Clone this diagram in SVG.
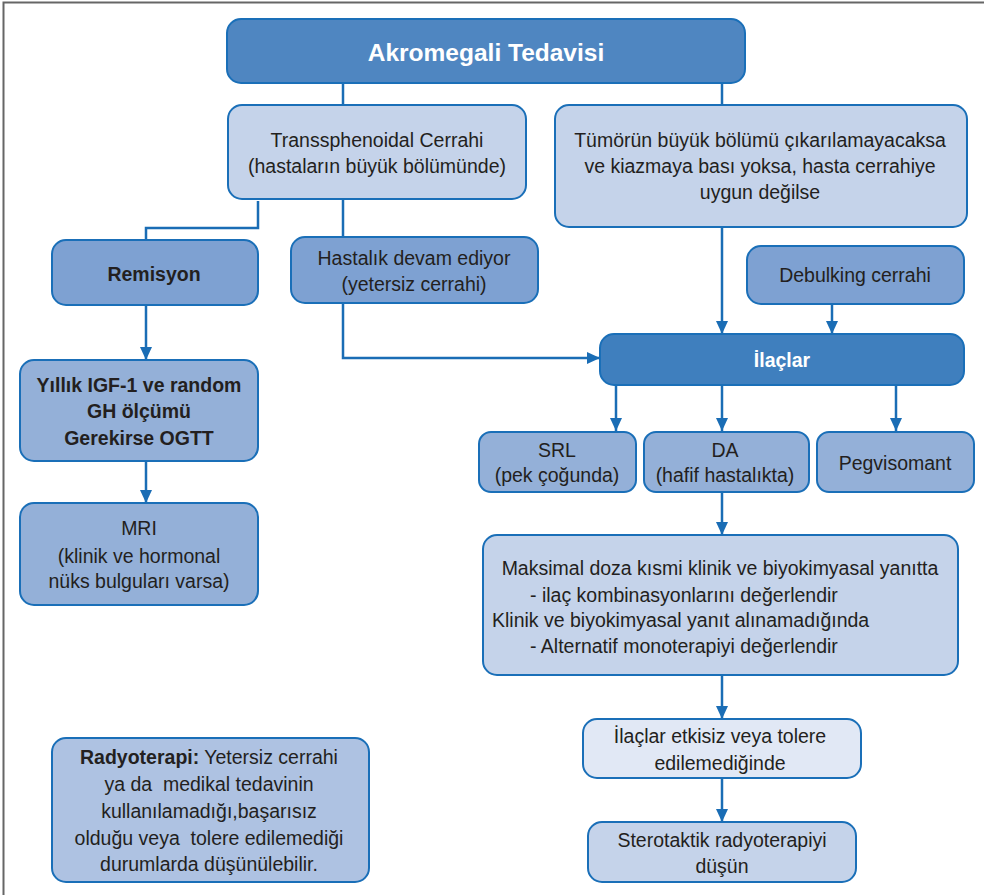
<svg xmlns="http://www.w3.org/2000/svg" width="984" height="895" viewBox="0 0 984 895">
<defs>
<marker id="ah" markerUnits="userSpaceOnUse" markerWidth="14" markerHeight="14" viewBox="0 0 14 14" refX="13" refY="7" orient="auto">
<path d="M0,1 L13,7 L0,13 Z" fill="#1a6db5"/>
</marker>
<style>
.n{stroke:#1a6fb8;stroke-width:2}
.t{font-family:"Liberation Sans",Arial,sans-serif;font-size:19.5px;fill:#231f20;text-anchor:middle}
.b{font-weight:bold}
.w{fill:#ffffff}
.p{white-space:pre}
.c{fill:none;stroke:#1a6db5;stroke-width:2.5}
.a{marker-end:url(#ah)}
</style>
</defs>
<rect width="984" height="895" fill="#ffffff"/>
<path d="M3.5,895 V2.5 H984" fill="none" stroke="#666" stroke-width="2"/>
<g id="connectors">
<path class="c" d="M343,83 V105"/>
<path class="c" d="M722,83 V105"/>
<path class="c" d="M258,201 V228 H146 V240"/>
<path class="c" d="M343,199 V237"/>
<path class="c a" d="M343,303 V358 H600"/>
<path class="c a" d="M722,227 V334"/>
<path class="c a" d="M832,304 V334"/>
<path class="c a" d="M616,385 V431"/>
<path class="c a" d="M722,385 V431"/>
<path class="c a" d="M896,385 V431"/>
<path class="c a" d="M722,492 V535"/>
<path class="c a" d="M722,675 V719"/>
<path class="c a" d="M722,778 V822"/>
<path class="c a" d="M146,305 V360"/>
<path class="c a" d="M146,461 V503"/>
</g>
<g id="title">
<rect class="n" x="227" y="19" width="518" height="64" rx="14" fill="#4f86c1"/>
<text class="t b w" x="486" y="61" style="font-size:24.5px">Akromegali Tedavisi</text>
</g>
<g id="transsphenoidal">
<rect class="n" x="228" y="105" width="298" height="94" rx="14" fill="#c5d3ea"/>
<text class="t" x="377" y="147">Transsphenoidal Cerrahi</text>
<text class="t" x="377" y="173">(hastaların büyük bölümünde)</text>
</g>
<g id="tumor">
<rect class="n" x="555" y="105" width="412" height="122" rx="14" fill="#c5d3ea"/>
<text class="t" x="760" y="147">Tümörün büyük bölümü çıkarılamayacaksa</text>
<text class="t" x="760" y="173">ve kiazmaya bası yoksa, hasta cerrahiye</text>
<text class="t" x="760" y="199">uygun değilse</text>
</g>
<g id="remisyon">
<rect class="n" x="52" y="240" width="206" height="65" rx="14" fill="#7ea1d2"/>
<text class="t b" x="154" y="281">Remisyon</text>
</g>
<g id="hastalik">
<rect class="n" x="291" y="237" width="247" height="66" rx="14" fill="#7ea1d2"/>
<text class="t" x="414" y="265">Hastalık devam ediyor</text>
<text class="t" x="414" y="291">(yetersiz cerrahi)</text>
</g>
<g id="debulking">
<rect class="n" x="747" y="246" width="217" height="58" rx="14" fill="#7ea1d2"/>
<text class="t" x="855" y="282">Debulking cerrahi</text>
</g>
<g id="ilaclar">
<rect class="n" x="600" y="334" width="364" height="51" rx="14" fill="#3f7fbe"/>
<text class="t b w" x="782" y="367">İlaçlar</text>
</g>
<g id="srl">
<rect class="n" x="479" y="432" width="157" height="60" rx="12" fill="#94b0d8"/>
<text class="t" x="557" y="457">SRL</text>
<text class="t" x="557" y="482">(pek çoğunda)</text>
</g>
<g id="da">
<rect class="n" x="644" y="432" width="165" height="60" rx="12" fill="#94b0d8"/>
<text class="t" x="725" y="457">DA</text>
<text class="t" x="725" y="482">(hafif hastalıkta)</text>
</g>
<g id="pegvisomant">
<rect class="n" x="817" y="432" width="157" height="60" rx="12" fill="#94b0d8"/>
<text class="t" x="895" y="470">Pegvisomant</text>
</g>
<g id="maksimal">
<rect class="n" x="483" y="535" width="475" height="140" rx="14" fill="#c5d3ea"/>
<text class="t" x="720" y="575">Maksimal doza kısmi klinik ve biyokimyasal yanıtta</text>
<text class="t" x="530" y="602" style="text-anchor:start">- ilaç kombinasyonlarını değerlendir</text>
<text class="t" x="492" y="627" style="text-anchor:start">Klinik ve biyokimyasal yanıt alınamadığında</text>
<text class="t" x="530" y="653" style="text-anchor:start">- Alternatif monoterapiyi değerlendir</text>
</g>
<g id="etkisiz">
<rect class="n" x="583" y="719" width="278" height="59" rx="14" fill="#e1e8f5"/>
<text class="t" x="720" y="743">İlaçlar etkisiz veya tolere</text>
<text class="t" x="720" y="770">edilemediğinde</text>
</g>
<g id="sterotaktik">
<rect class="n" x="588" y="822" width="268" height="60" rx="14" fill="#c5d3ea"/>
<text class="t" x="722" y="847">Sterotaktik radyoterapiyi</text>
<text class="t" x="722" y="873">düşün</text>
</g>
<g id="yillik">
<rect class="n" x="20" y="360" width="238" height="101" rx="14" fill="#94b0d8"/>
<text class="t b" x="139" y="392">Yıllık IGF-1 ve random</text>
<text class="t b" x="139" y="418">GH ölçümü</text>
<text class="t b" x="139" y="445">Gerekirse OGTT</text>
</g>
<g id="mri">
<rect class="n" x="20" y="503" width="238" height="102" rx="14" fill="#94b0d8"/>
<text class="t" x="139" y="535">MRI</text>
<text class="t" x="139" y="563">(klinik ve hormonal</text>
<text class="t" x="139" y="588">nüks bulguları varsa)</text>
</g>
<g id="radyoterapi">
<rect class="n" x="52" y="738" width="317" height="144" rx="14" fill="#aec2e2"/>
<text class="t" x="209" y="764"><tspan class="b">Radyoterapi:</tspan> Yetersiz cerrahi</text>
<text class="t p" x="209" y="791">ya da  medikal tedavinin</text>
<text class="t" x="209" y="818">kullanılamadığı,başarısız</text>
<text class="t p" x="209" y="845">olduğu veya  tolere edilemediği</text>
<text class="t" x="209" y="871">durumlarda düşünülebilir.</text>
</g>
</svg>
